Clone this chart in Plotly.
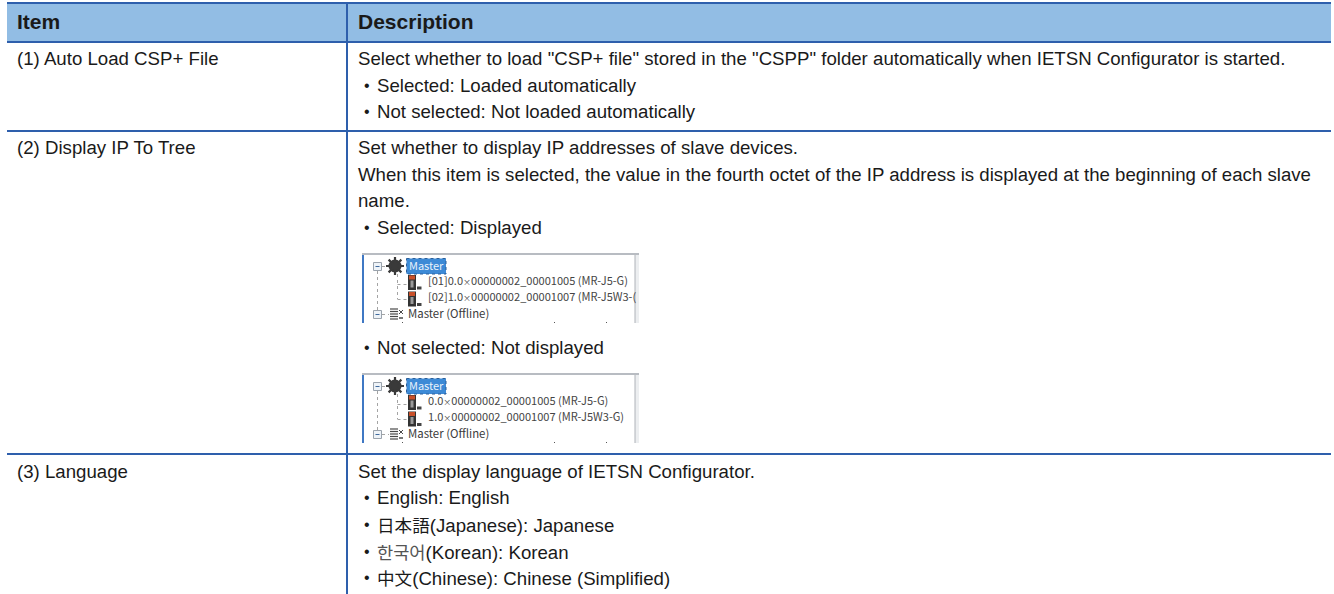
import plotly.graph_objects as go

W, H = 1334, 594
BLUE = "#2e5fac"
HEAD = "#92bde4"
TXT = "#1a1a1a"
FONT = "Liberation Sans, Arial, sans-serif"
CJK = "Noto Sans CJK JP, sans-serif"

headers = ["Item", "Description"]
items = ["(1) Auto Load CSP+ File", "(2) Display IP To Tree", "(3) Language"]

desc_row1 = ['Select whether to load "CSP+ file" stored in the "CSPP" folder automatically when IETSN Configurator is started.']
bullets_row1 = ["Selected: Loaded automatically", "Not selected: Not loaded automatically"]
desc_row2 = ["Set whether to display IP addresses of slave devices.",
             "When this item is selected, the value in the fourth octet of the IP address is displayed at the beginning of each slave",
             "name."]
bullet_row2a = ["Selected: Displayed"]
bullet_row2b = ["Not selected: Not displayed"]
desc_row3 = ["Set the display language of IETSN Configurator."]
bullets_row3 = ["English: English",
                '<span style="font-family:Noto Sans CJK JP;font-size:17.6px">日本語</span>(Japanese): Japanese',
                '<span style="font-family:Noto Sans CJK KR;font-size:17.6px;color:#555">한국어</span>(Korean): Korean',
                '<span style="font-family:Noto Sans CJK SC;font-size:17.6px">中文</span>(Chinese): Chinese (Simplified)']

TIMES = '<span style="font-size:8px">×</span>'
tree1 = [f"[01]0.0{TIMES}00000002_00001005 (MR-J5-G)", f"[02]1.0{TIMES}00000002_00001007 (MR-J5W3-("]
tree2 = [f"0.0{TIMES}00000002_00001005 (MR-J5-G)", f"1.0{TIMES}00000002_00001007 (MR-J5W3-G)"]
tree_root = "Master"
tree_off = "Master (Offline)"

fig = go.Figure()
shapes, ann = [], []


def text(x, y, s, size=18.65, color=TXT, bold=False, family=FONT, anchor="left"):
    ann.append(dict(x=x, y=y, text=f"<b>{s}</b>" if bold else s, xref="x", yref="y",
                    showarrow=False, xanchor=anchor, yanchor="middle", align="left",
                    borderpad=0, borderwidth=0,
                    font=dict(family=family, size=size, color=color)))


def rect(x0, y0, x1, y1, fill=None, line=None, lw=1, dash=None):
    shapes.append(dict(type="rect", x0=x0, y0=y0, x1=x1, y1=y1, xref="x", yref="y",
                       fillcolor=fill or "rgba(0,0,0,0)",
                       line=dict(color=line or "rgba(0,0,0,0)", width=lw if line else 0, dash=dash),
                       layer="above"))


def hl(x0, y0, x1, y1, color=BLUE, lw=2, dash=None):
    shapes.append(dict(type="line", x0=x0, y0=y0, x1=x1, y1=y1, xref="x", yref="y",
                       line=dict(color=color, width=lw, dash=dash), layer="above"))


def bullet(y, s):
    text(366.5, y, "•", size=16, anchor="center")
    text(377, y, s)


# table frame
rect(7, 3, 1331, 42, fill=HEAD)
hl(7, 3, 1331, 3)
hl(7, 42, 1331, 42)
hl(7, 131, 1331, 131)
hl(7, 454, 1331, 454)
hl(347, 3, 347, 594)

text(17, 21, headers[0], size=21, bold=True)
text(358, 21, headers[1], size=21, bold=True)

text(17, 58.5, items[0])
text(17, 147.5, items[1])
text(17, 471, items[2])

text(358, 58.5, desc_row1[0])
bullet(85, bullets_row1[0])
bullet(111.5, bullets_row1[1])

for y, s in zip([147.5, 174, 200.5], desc_row2):
    text(358, y, s)
bullet(227.5, bullet_row2a[0])
bullet(347.5, bullet_row2b[0])

text(358, 471, desc_row3[0])
for y, s in zip([497.5, 524, 551, 577], bullets_row3):
    bullet(y, s)

DOT = "#a4a4a4"


def tree(top, rows):
    # window frame
    rect(362, top, 364, top + 70, fill="#3f78c4")
    rect(362, top, 639, top + 2, fill="#b8bcc2")
    rect(635, top + 2, 639, top + 70, fill="#eceef0")
    hl(635, top + 2, 635, top + 70, color="#aeb2b8", lw=1)
    # connectors
    hl(377.5, top + 18, 377.5, top + 58, color=DOT, lw=1, dash="dot")
    hl(397.5, top + 21, 397.5, top + 46, color=DOT, lw=1, dash="dot")
    hl(397.5, top + 31.5, 408, top + 31.5, color=DOT, lw=1, dash="dot")
    hl(397.5, top + 46.5, 408, top + 46.5, color=DOT, lw=1, dash="dot")
    hl(382, top + 61.5, 389, top + 61.5, color=DOT, lw=1, dash="dot")
    hl(382, top + 13.5, 387, top + 13.5, color=DOT, lw=1, dash="dot")
    # expander boxes
    for yc in (top + 13.5, top + 61.5):
        rect(373.5, yc - 4, 381.5, yc + 4, fill="#eef3f8", line="#9aa3ad", lw=1)
        hl(375.5, yc, 379.5, yc, color="#3f6a9e", lw=1)
    # selected root label
    rect(406.5, top + 5.5, 446, top + 21, fill="#3d8ad6", line="#2a5f9a", lw=1, dash="dot")
    text(409, top + 11.5, tree_root, size=11, color="#e8f2fb", family=CJK)
    # device icons
    for yc in (top + 29.5, top + 46):
        rect(408, yc - 7.5, 416, yc + 7.5, fill="#333333")
        rect(409, yc - 7, 415, yc - 3, fill="#c8502a")
        rect(410.5, yc - 2, 413.5, yc + 5, fill="#9a9a9a")
        rect(417, yc + 4, 421.5, yc + 7, fill="#444444")
    # offline icon
    for d in (-5, -2.5, 0, 2.5, 5):
        hl(390, top + 61 + d, 398, top + 61 + d, color="#4a4a4a", lw=1.2)
    hl(399, top + 57, 403, top + 61, color="#4a4a4a", lw=1)
    hl(399, top + 61, 403, top + 57, color="#4a4a4a", lw=1)
    hl(399, top + 65, 403, top + 65, color="#4a4a4a", lw=1.5)
    # row texts
    text(428, top + 27, rows[0], size=11.05, color="#444444", family=CJK)
    text(428, top + 43, rows[1], size=11.05, color="#444444", family=CJK)
    text(408, top + 60, tree_off, size=11.4, color="#3a3a3a", family=CJK)
    # clipped dots at the bottom
    for x in (402, 554, 606):
        hl(x, top + 69.5, x + 1, top + 69.5, color="#555555", lw=1)


tree_tops = [253, 373]
tree(tree_tops[0], tree1)
tree(tree_tops[1], tree2)

# gear icons: a disc with teeth, both drawn as markers
gear_x = [395, 395]
gear_y = [top + 13 for top in tree_tops]
fig.add_trace(go.Scatter(x=gear_x, y=gear_y, mode="markers", hoverinfo="skip",
                         marker=dict(symbol="circle", size=13, color="#3a3a3a", line=dict(width=0))))
fig.add_trace(go.Scatter(x=gear_x, y=gear_y, mode="markers", hoverinfo="skip",
                         marker=dict(symbol="asterisk-open", size=15, color="#3a3a3a",
                                     line=dict(width=2.2, color="#3a3a3a"))))

fig.update_layout(
    width=W, height=H, margin=dict(l=0, r=0, t=0, b=0), showlegend=False,
    paper_bgcolor="white", plot_bgcolor="white",
    xaxis=dict(range=[0, W], visible=False, fixedrange=True),
    yaxis=dict(range=[H, 0], visible=False, fixedrange=True),
    shapes=shapes, annotations=ann,
)
fig.write_html("out.html", config={"displayModeBar": False},
               post_script="document.body.style.margin='0';document.documentElement.style.overflow='hidden';")
